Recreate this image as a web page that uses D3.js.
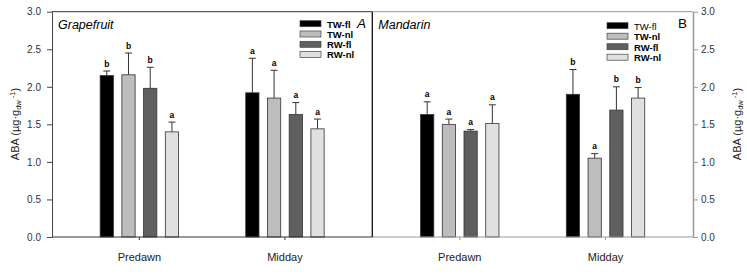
<!DOCTYPE html>
<html>
<head>
<meta charset="utf-8">
<script src="https://cdn.jsdelivr.net/npm/d3@7"></script>
<style>
  body { margin: 0; background: #fff; }
  svg { font-family: "Liberation Sans", Arial, sans-serif; }
</style>
</head>
<body>
<div id="chart"></div>
<script>
const categories = ["Predawn", "Midday"];
const series = ["TW-fl", "TW-nl", "RW-fl", "RW-nl"];
const colors = ["#000000", "#bdbdbd", "#5f5f5f", "#e0e0e0"];
const yTicks = [0, 0.5, 1.0, 1.5, 2.0, 2.5, 3.0];

// grapefruit: means and error per category, in series order
const grapeMean = [[2.15, 2.16, 1.98, 1.40], [1.92, 1.85, 1.63, 1.44]];
const grapeErr  = [[0.06, 0.29, 0.28, 0.13], [0.46, 0.37, 0.16, 0.13]];
const grapeLetters = [["b", "b", "b", "a"], ["a", "a", "a", "a"]];

// mandarin
const mandMean = [[1.63, 1.50, 1.41, 1.51], [1.90, 1.05, 1.69, 1.85]];
const mandErr  = [[0.17, 0.07, 0.02, 0.25], [0.33, 0.06, 0.31, 0.14]];
const mandLetters = [["a", "a", "a", "a"], ["b", "a", "b", "b"]];

const W = 747, H = 274;
const yTop = 11.7, yBottom = 237;
const svg = d3.select("#chart").append("svg").attr("width", W).attr("height", H);

const y = d3.scaleLinear().domain([0, 3]).range([yBottom, yTop]);

function panel(opts) {
    const x0 = d3.scaleBand().domain(categories).range([opts.left, opts.right])
        .paddingInner(0).paddingOuter(0.1);
    const x1 = d3.scaleBand().domain(series).range([-39.2, 39.2]).paddingInner(0.39);
    const g = svg.append("g");

    categories.forEach((c, ci) => {
        const cx = x0(c) + x0.bandwidth() / 2;
        series.forEach((s, si) => {
            const v = opts.mean[ci][si], e = opts.err[ci][si];
            const bx = cx + x1(s);
            const mid = bx + x1.bandwidth() / 2;
            g.append("line")
                .attr("x1", mid).attr("x2", mid)
                .attr("y1", y(v)).attr("y2", y(v + e))
                .attr("stroke", "#333").attr("stroke-width", 1);
            g.append("line")
                .attr("x1", mid - 3.5).attr("x2", mid + 3.5)
                .attr("y1", y(v + e)).attr("y2", y(v + e))
                .attr("stroke", "#333").attr("stroke-width", 1);
            g.append("rect")
                .attr("x", bx).attr("y", y(v))
                .attr("width", x1.bandwidth()).attr("height", y(0) - y(v))
                .attr("fill", colors[si]).attr("stroke", "#333").attr("stroke-width", 0.8);
            g.append("text")
                .attr("x", mid).attr("y", y(v + e) - 4.5)
                .attr("text-anchor", "middle")
                .style("font-size", "8.5px").style("font-weight", "bold")
                .text(opts.letters[ci][si]);
        });
        // x tick
        g.append("line")
            .attr("x1", cx).attr("x2", cx).attr("y1", yBottom).attr("y2", yBottom + 3)
            .attr("stroke", opts.lineColor);
        g.append("text")
            .attr("x", cx).attr("y", 260.5)
            .attr("text-anchor", "middle")
            .style("font-size", "11px").attr("fill", "#222")
            .text(c);
    });

    // frame
    g.append("line").attr("x1", opts.left).attr("x2", opts.right)
        .attr("y1", yTop).attr("y2", yTop).attr("stroke", opts.lineColor);
    g.append("line").attr("x1", opts.left).attr("x2", opts.right)
        .attr("y1", yBottom).attr("y2", yBottom).attr("stroke", opts.lineColor);

    g.append("text")
        .attr("x", opts.left + 6).attr("y", 28.5)
        .style("font-size", "12.5px").style("font-style", "italic")
        .text(opts.title);

    g.append("text")
        .attr("x", opts.tagX).attr("y", 28)
        .style("font-size", "13.5px").style("font-style", opts.tagStyle)
        .text(opts.tag);

    // legend
    series.forEach((s, si) => {
        const ly = opts.legY + si * opts.legStep;
        g.append("rect")
            .attr("x", opts.legX).attr("y", ly)
            .attr("width", 21).attr("height", 6)
            .attr("fill", colors[si]).attr("stroke", "#444").attr("stroke-width", 0.7);
        g.append("text")
            .attr("x", opts.legX + 27).attr("y", ly + 6.8)
            .style("font-size", "9.5px")
            .style("font-weight", (opts.firstPlain && si === 0) ? "normal" : "bold")
            .text(s);
    });
    return g;
}

panel({
    left: 52, right: 372.3, mean: grapeMean, err: grapeErr, letters: grapeLetters,
    title: "Grapefruit", tag: "A", tagStyle: "italic", tagX: 357,
    legX: 300, legY: 20.7, legStep: 10.3, firstPlain: false, lineColor: "#333"
});
panel({
    left: 372.3, right: 693, mean: mandMean, err: mandErr, letters: mandLetters,
    title: "Mandarin", tag: "B", tagStyle: "normal", tagX: 678,
    legX: 607, legY: 22.7, legStep: 10.5, firstPlain: true, lineColor: "#999"
});

// divider between panels
svg.append("line").attr("x1", 372.3).attr("x2", 372.3)
    .attr("y1", yTop).attr("y2", yBottom).attr("stroke", "#111").attr("stroke-width", 1.3);

// y axes
const yl = svg.append("g").attr("transform", "translate(52,0)")
    .call(d3.axisLeft(y).tickValues(yTicks).tickFormat(d3.format(".1f"))
        .tickSize(5).tickPadding(6).tickSizeOuter(0));
yl.select(".domain").attr("stroke", "#444");
yl.selectAll(".tick line").attr("stroke", "#444");
yl.selectAll("text").style("font-size", "10px").attr("fill", "#333")
    .style("font-family", "'Liberation Sans', Arial, sans-serif");

const yr = svg.append("g").attr("transform", "translate(693,0)")
    .call(d3.axisRight(y).tickValues(yTicks).tickFormat(d3.format(".1f"))
        .tickSize(5).tickPadding(3).tickSizeOuter(0));
yr.select(".domain").attr("stroke", "#999").attr("stroke-width", 1.5);
yr.selectAll(".tick line").attr("stroke", "#999");
yr.selectAll("text").style("font-size", "10px").attr("fill", "#333")
    .style("font-family", "'Liberation Sans', Arial, sans-serif");

function yLabel(x) {
    const t = svg.append("text")
        .attr("transform", `translate(${x},124) rotate(-90)`)
        .attr("text-anchor", "middle")
        .style("font-size", "11px").attr("fill", "#222");
    t.append("tspan").text("ABA (µg·g");
    t.append("tspan").attr("baseline-shift", "-25%").style("font-size", "7.5px").text("dw");
    t.append("tspan").attr("baseline-shift", "super").style("font-size", "7.5px").text(" -1");
    t.append("tspan").text(")");
}
yLabel(19);
yLabel(741);
</script>
</body>
</html>
